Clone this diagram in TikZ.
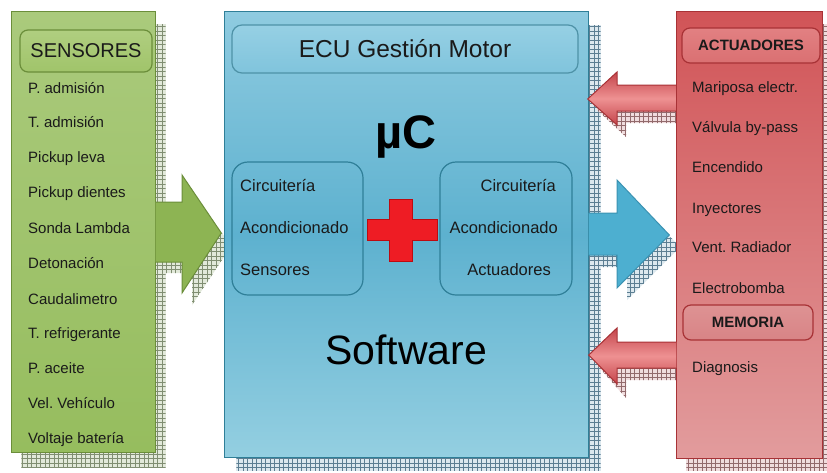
\documentclass[tikz,border=0pt]{standalone}
\usepackage{fontspec}
\setmainfont{Liberation Sans}
\frenchspacing
\usetikzlibrary{patterns,calc}

% square grid used for the drop shadows
\pgfdeclarepatternformonly{shadowgrid}{\pgfqpoint{-1pt}{-1pt}}{\pgfqpoint{5.5pt}{5.5pt}}{\pgfqpoint{4.5pt}{4.5pt}}{%
  \pgfsetlinewidth{0.6pt}%
  \pgfpathmoveto{\pgfqpoint{0pt}{0pt}}\pgfpathlineto{\pgfqpoint{4.6pt}{0pt}}%
  \pgfpathmoveto{\pgfqpoint{0pt}{0pt}}\pgfpathlineto{\pgfqpoint{0pt}{4.6pt}}%
  \pgfusepath{stroke}}

\definecolor{txt}{HTML}{1A1A1A}
\definecolor{gTop}{HTML}{AACA7C}
\definecolor{gBot}{HTML}{96BD5E}
\definecolor{gLine}{HTML}{6B8E3A}
\definecolor{gArrow}{HTML}{8DB453}
\definecolor{bTop}{HTML}{8FCBE0}
\definecolor{bMid}{HTML}{5DB1CF}
\definecolor{bBot}{HTML}{94CFE1}
\definecolor{bLine}{HTML}{2F7F98}
\definecolor{bArrow}{HTML}{4DAFD0}
\definecolor{rTop}{HTML}{D15457}
\definecolor{rBot}{HTML}{E29C9D}
\definecolor{rLine}{HTML}{A83236}
\definecolor{rDark}{HTML}{C4444A}
\definecolor{rLight}{HTML}{EE9192}
\definecolor{crossRed}{HTML}{EE1C24}

\tikzset{
  panel/.style={rectangle, draw, line width=1.4pt, inner sep=0pt},
  header/.style={rectangle, rounded corners=8pt, draw, line width=1.2pt, inner sep=0pt},
  item/.style={anchor=west, inner sep=0pt, text height=11pt, text depth=3pt, text=txt, font=\fontsize{15}{15}\selectfont},
  gshadow/.style={fill={rgb,255:red,226;green,233;blue,218}, postaction={pattern=shadowgrid, pattern color={rgb,255:red,128;green,142;blue,114}}},
  bshadow/.style={fill={rgb,255:red,220;green,232;blue,238}, postaction={pattern=shadowgrid, pattern color={rgb,255:red,92;green,126;blue,146}}},
  rshadow/.style={fill={rgb,255:red,240;green,220;blue,221}, postaction={pattern=shadowgrid, pattern color={rgb,255:red,146;green,106;blue,108}}},
  redarrow/.style={draw=rLine, line width=1pt, line join=miter, top color=rDark, bottom color=rDark, middle color=rLight},
}

\begin{document}
\begin{tikzpicture}[x=1pt,y=-1pt]
\useasboundingbox (0,0) rectangle (827,472);
\fill[white] (0,0) rectangle (827,472);

% ---------- panel geometry (painted below, after the shadows)
\path
  node[panel, draw=none, minimum width=143pt, minimum height=440pt] (sens) at (83.5,232) {}
  node[panel, draw=none, minimum width=363pt, minimum height=445pt] (ecu) at (406.5,234.5) {}
  node[panel, draw=none, minimum width=145pt, minimum height=446pt] (act) at (749.5,235) {};

% ---------- drop shadows
\fill[gshadow] ($(sens.north west)+(10,13)$) rectangle ($(sens.south east)+(10,15)$);
\fill[gshadow] (182,175+12) -- (222+10,233+12) -- (182+10,293+12) -- (182+10,262+11) -- (155,262+11) -- (155,202) -- (182,202) -- cycle;
\fill[bshadow] ($(ecu.north west)+(12,14)$) rectangle ($(ecu.south east)+(12,13)$);
\fill[bshadow] (617+10,180+12) -- (670+10,235+12) -- (617+10,288+12) -- (617+10,255+12) -- (588,255+12) -- (588,213) -- (617,213) -- cycle;
\fill[rshadow] ($(act.north west)+(10,13)$) rectangle ($(act.south east)+(10,12)$);
\fill[rshadow] (587+9,99+10) -- (617+9,125+12) -- (617+9,111+12) -- (677,111+12) -- (677,111) -- (617,111) -- cycle;
\fill[rshadow] (588+9,355+10) -- (617+9,386+12) -- (617+9,368+12) -- (677,368+12) -- (677,368) -- (617,368) -- cycle;

% ---------- sensor panel
\draw[line width=1.4pt, draw=gLine, top color=gTop, bottom color=gBot] (sens.north west) rectangle (sens.south east);
\node[header, draw=gLine, top color={rgb,255:red,176;green,206;blue,128}, bottom color={rgb,255:red,160;green,196;blue,106},
      minimum width=132pt, minimum height=42pt, font=\fontsize{20}{20}\selectfont, text=txt] (sensh) at (86,51) {SENSORES};
\node[item] (s1)  at (28,89)  {P. admisión};
\node[item] (s2)  at (28,123) {T. admisión};
\node[item] (s3)  at (28,158) {Pickup leva};
\node[item] (s4)  at (28,193) {Pickup dientes};
\node[item] (s5)  at (28,229) {Sonda Lambda};
\node[item] (s6)  at (28,264) {Detonación};
\node[item] (s7)  at (28,300) {Caudalimetro};
\node[item] (s8)  at (28,334) {T. refrigerante};
\node[item] (s9)  at (28,369) {P. aceite};
\node[item] (s10) at (28,404) {Vel. Vehículo};
\node[item] (s11) at (28,439) {Voltaje batería};

% ---------- arrow from the sensors into the ECU
\draw[draw=gLine, line width=1pt, line join=miter, fill=gArrow]
  (sens.east |- 0,202) -- (182,202) -- (182,175) -- ($(ecu.west |- 0,233)+(-3,0)$) -- (182,293) -- (182,262) -- (sens.east |- 0,262);

% ---------- ECU panel
\draw[line width=1.4pt, draw=bLine, top color=bTop, bottom color=bBot, middle color=bMid] (ecu.north west) rectangle (ecu.south east);
\node[header, draw=bLine!85, top color={rgb,255:red,150;green,208;blue,228}, bottom color={rgb,255:red,128;green,196;blue,220},
      rounded corners=10pt, minimum width=346pt, minimum height=48pt, font=\fontsize{24.5}{24.5}\selectfont, text=txt] (ecuh) at (405,49) {ECU Gestión Motor};
\node[font=\fontsize{47}{47}\selectfont\bfseries, text=black, inner sep=0pt] (uc) at (406,137) {µC};
\node[header, draw=bLine, rounded corners=16pt, minimum width=131pt, minimum height=133pt] (cin) at (297.5,228.5) {};
\node[header, draw=bLine, rounded corners=16pt, minimum width=132pt, minimum height=133pt] (cout) at (506,228.5) {};
\begin{scope}[every node/.style={inner sep=0pt, text height=12pt, text depth=3.5pt, text=txt, font=\fontsize{16.5}{16.5}\selectfont}]
  \node[anchor=west] (c1) at (240,187) {Circuitería};
  \node[anchor=west] (c2) at (240,229) {Acondicionado};
  \node[anchor=west] (c3) at (240,271) {Sensores};
  \node[anchor=east] (d1) at (556,187) {Circuitería};
  \node[anchor=east] (d2) at (558,229) {Acondicionado};
  \node[anchor=east] (d3) at (551,271) {Actuadores};
\end{scope}
% plus sign between the two conditioning blocks
\draw[fill=crossRed, draw={rgb,255:red,190;green,10;blue,16}, line width=0.8pt, line join=miter]
  (389,199) -- (412,199) -- (412,219) -- (437,219) -- (437,240) -- (412,240) -- (412,261)
  -- (389,261) -- (389,240) -- (367,240) -- (367,219) -- (389,219) -- cycle;
\node[font=\fontsize{41}{41}\selectfont, text=black, inner sep=0pt] (sw) at (406,350) {Software};

% ---------- arrow from the ECU out to the actuators
\draw[draw={rgb,255:red,58;green,146;blue,178}, line width=1pt, line join=miter, fill=bArrow]
  (ecu.east |- 0,213) -- (617,213) -- (617,180) -- ($(act.west |- 0,235)+(-7,0)$) -- (617,288) -- (617,255) -- (ecu.east |- 0,255);

% ---------- actuator panel
\draw[line width=1.4pt, draw=rLine, top color=rTop, bottom color=rBot] (act.north west) rectangle (act.south east);
\node[header, draw=rLine, top color={rgb,255:red,226;green,128;blue,130}, bottom color={rgb,255:red,218;green,112;blue,114},
      minimum width=138pt, minimum height=35pt, font=\fontsize{15}{15}\selectfont\bfseries, text=txt] (acth) at (751,45.5) {ACTUADORES};
\node[item] (a1) at (692,88)  {Mariposa electr.};
\node[item] (a2) at (692,128) {Válvula by-pass};
\node[item] (a3) at (692,168) {Encendido};
\node[item] (a4) at (692,209) {Inyectores};
\node[item] (a5) at (692,248) {Vent. Radiador};
\node[item] (a6) at (692,289) {Electrobomba};
\node[header, draw=rLine, top color={rgb,255:red,222;green,146;blue,147}, bottom color={rgb,255:red,216;green,132;blue,134},
      minimum width=130pt, minimum height=35pt, font=\fontsize{15}{15}\selectfont\bfseries, text=txt] (memh) at (748,322.5) {MEMORIA};
\node[item] (a7) at (692,368) {Diagnosis};

% ---------- feedback arrows from the actuator panel back into the ECU
\draw[redarrow] (act.west |- 0,85) -- (617,85) -- (617,72) -- ($(ecu.east |- 0,99)+(-1,0)$) -- (617,125) -- (617,111) -- (act.west |- 0,111);
\draw[redarrow] (act.west |- 0,342) -- (617,342) -- (617,328) -- (ecu.east |- 0,355) -- (617,384) -- (617,368) -- (act.west |- 0,368);

\end{tikzpicture}
\end{document}
